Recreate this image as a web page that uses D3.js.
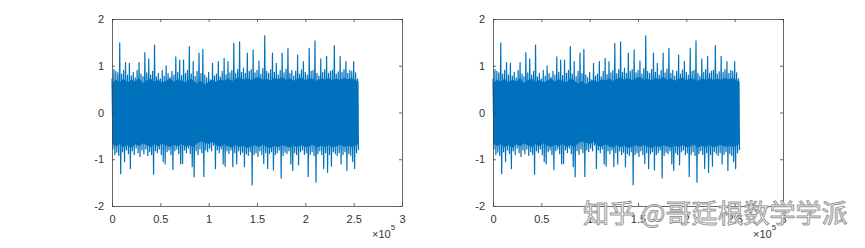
<!DOCTYPE html>
<html>
<head>
<meta charset="utf-8">
<script src="https://cdn.jsdelivr.net/npm/d3@7/dist/d3.min.js"></script>
<style>
  body { margin: 0; background: #fff; }
  svg { display: block; }
  .tick text { font-family: "Liberation Sans", Arial, sans-serif; font-size: 11px; fill: #333; }
</style>
</head>
<body>
<svg id="chart" width="865" height="248"></svg>
<script>
var width = 865, height = 248;

// x ticks in units of 1e5 samples
var xTicks = [0, 0.5, 1, 1.5, 2, 2.5, 3];
var xTickLabels = ['0', '0.5', '1', '1.5', '2', '2.5', '3'];
var yTicks = [-2, -1, 0, 1, 2];
var yTickLabels = ['-2', '-1', '0', '1', '2'];

// signal: 256000 samples, shown as max/min per block of 2000 samples
var blockSize = 2000;
var signalMax = [
  0.72, 0.92, 0.88, 0.85, 1.49, 0.82, 0.90, 1.07, 0.80, 1.05,
  0.78, 0.86, 0.74, 0.90, 1.07, 0.82, 0.77, 1.28, 0.85, 1.15,
  0.80, 0.88, 1.44, 0.76, 0.84, 0.72, 0.90, 0.78, 1.00, 0.83,
  0.75, 0.88, 0.80, 1.19, 0.86, 1.12, 0.79, 1.12, 0.84, 0.90,
  1.41, 0.82, 1.09, 0.77, 0.88, 1.27, 0.83, 1.35, 0.80, 0.74,
  0.86, 0.70, 1.05, 0.78, 0.82, 1.09, 0.76, 0.88, 1.16, 0.81,
  1.09, 0.85, 0.90, 1.48, 0.83, 0.92, 1.51, 0.86, 0.95, 0.84,
  1.27, 0.88, 0.92, 1.34, 0.85, 0.90, 1.10, 0.82, 0.94, 1.64,
  0.88, 0.84, 0.92, 1.27, 0.86, 1.05, 0.80, 0.90, 1.27, 0.85,
  0.93, 1.37, 0.84, 0.90, 0.78, 0.88, 1.23, 0.82, 0.91, 1.09,
  0.86, 0.80, 1.37, 0.88, 0.90, 1.53, 0.84, 0.78, 1.15, 0.86,
  0.92, 1.20, 0.84, 0.88, 0.90, 1.43, 0.82, 0.87, 1.20, 0.86,
  0.92, 1.09, 0.84, 0.90, 0.88, 1.09, 0.85, 0.72
];
var signalMin = [
  -0.78, -0.90, -0.85, -0.92, -1.31, -0.84, -1.05, -0.80, -0.88, -1.20,
  -0.82, -0.90, -0.76, -0.86, -0.94, -0.80, -0.88, -0.78, -0.92, -0.84,
  -0.90, -1.32, -0.82, -0.86, -0.78, -0.90, -1.05, -1.10, -0.84, -0.80,
  -0.90, -1.22, -0.82, -0.78, -0.88, -1.10, -1.09, -0.80, -0.86, -0.76,
  -0.88, -1.16, -1.38, -0.82, -0.90, -0.78, -0.86, -1.37, -0.80, -0.84,
  -0.76, -0.82, -0.70, -1.20, -0.80, -0.86, -0.78, -1.10, -1.15, -0.82,
  -0.88, -0.80, -1.16, -0.86, -1.10, -0.82, -0.90, -0.85, -1.16, -0.88,
  -0.92, -0.84, -1.55, -0.90, -0.86, -0.94, -0.82, -0.90, -1.09, -0.86,
  -1.20, -0.88, -0.84, -1.23, -0.90, -0.86, -0.80, -1.40, -0.92, -0.85,
  -0.88, -0.82, -1.10, -1.24, -0.86, -0.90, -1.12, -0.84, -0.80, -0.90,
  -0.86, -1.37, -0.90, -0.84, -0.92, -1.49, -0.88, -0.82, -0.90, -1.20,
  -0.86, -1.28, -0.90, -1.15, -0.84, -0.88, -0.92, -0.86, -1.10, -0.90,
  -0.84, -1.24, -0.88, -0.92, -1.05, -1.20, -0.86, -0.80
];

// dense core of the trace, every 4000 samples
var coreStep = 4000;
var coreHi = [0.62, 0.70, 0.66, 0.72, 0.64, 0.70, 0.67, 0.74, 0.63, 0.69, 0.72, 0.66, 0.70, 0.64, 0.68, 0.73,
  0.66, 0.71, 0.68, 0.64, 0.72, 0.69, 0.62, 0.67, 0.60, 0.66, 0.70, 0.65, 0.71, 0.68, 0.73, 0.67,
  0.72, 0.75, 0.70, 0.74, 0.69, 0.73, 0.76, 0.70, 0.72, 0.68, 0.74, 0.71, 0.76, 0.70, 0.73, 0.68,
  0.72, 0.75, 0.69, 0.74, 0.71, 0.68, 0.73, 0.70, 0.74, 0.69, 0.72, 0.70, 0.74, 0.71, 0.73, 0.69, 0.66];
var coreLo = [-0.66, -0.72, -0.68, -0.74, -0.70, -0.76, -0.68, -0.72, -0.66, -0.70, -0.74, -0.68, -0.72, -0.66, -0.71, -0.74,
  -0.69, -0.72, -0.67, -0.73, -0.70, -0.74, -0.66, -0.62, -0.64, -0.68, -0.63, -0.70, -0.73, -0.68, -0.72, -0.75,
  -0.70, -0.74, -0.71, -0.76, -0.72, -0.70, -0.74, -0.69, -0.73, -0.76, -0.71, -0.74, -0.70, -0.72, -0.75, -0.71,
  -0.73, -0.70, -0.74, -0.72, -0.69, -0.75, -0.71, -0.73, -0.70, -0.74, -0.72, -0.69, -0.73, -0.71, -0.74, -0.70, -0.68];

var watermark = '知乎 @哥廷根数学学派';

var panels = [{ left: 112, right: 402 }, { left: 493, right: 783 }];
var plotTop = 19, plotBottom = 206;
var lineColor = '#0072BD', axisColor = '#404040';

var points = [];
signalMax.forEach(function (v, i) {
  points.push([i * blockSize, v]);
  points.push([i * blockSize + blockSize / 2, signalMin[i]]);
});
var lastSample = signalMax.length * blockSize - blockSize / 2;
var core = coreHi.map(function (v, i) {
  return [Math.min(i * coreStep, lastSample), v, coreLo[i]];
});

var svg = d3.select('#chart');

panels.forEach(function (p) {
  var x = d3.scaleLinear().domain([0, 300000]).range([p.left, p.right]);
  var y = d3.scaleLinear().domain([-2, 2]).range([plotBottom, plotTop]);
  var g = svg.append('g');

  g.append('path')
    .datum(core)
    .attr('fill', lineColor)
    .attr('d', d3.area()
      .x(function (d) { return x(d[0]); })
      .y0(function (d) { return y(d[2]); })
      .y1(function (d) { return y(d[1]); }));

  g.append('path')
    .datum(points)
    .attr('fill', 'none')
    .attr('stroke', lineColor)
    .attr('stroke-width', 1.2)
    .attr('stroke-linejoin', 'round')
    .attr('d', d3.line()
      .x(function (d) { return x(d[0]); })
      .y(function (d) { return y(d[1]); }));

  var xVals = xTicks.map(function (t) { return t * 1e5; });
  var xAxis = g.append('g')
    .attr('transform', 'translate(0,' + plotBottom + ')')
    .call(d3.axisBottom(x).tickValues(xVals).tickSizeInner(-3).tickSizeOuter(0).tickPadding(9)
      .tickFormat(function (d, i) { return xTickLabels[i]; }));
  var xTop = g.append('g')
    .attr('transform', 'translate(0,' + plotTop + ')')
    .call(d3.axisTop(x).tickValues(xVals).tickSizeInner(-3).tickSizeOuter(0).tickFormat(''));
  var yAxis = g.append('g')
    .attr('transform', 'translate(' + p.left + ',0)')
    .call(d3.axisLeft(y).tickValues(yTicks).tickSizeInner(-3).tickSizeOuter(0).tickPadding(8)
      .tickFormat(function (d, i) { return yTickLabels[i]; }));
  var yRight = g.append('g')
    .attr('transform', 'translate(' + p.right + ',0)')
    .call(d3.axisRight(y).tickValues(yTicks).tickSizeInner(-3).tickSizeOuter(0).tickFormat(''));

  [xAxis, xTop, yAxis, yRight].forEach(function (a) {
    a.selectAll('path, line').attr('stroke', axisColor).attr('stroke-width', 0.8);
  });

  var exp = g.append('text')
    .attr('x', p.right - 30)
    .attr('y', 238)
    .attr('font-family', '"Liberation Sans", Arial, sans-serif')
    .attr('font-size', 11)
    .attr('fill', '#333');
  exp.append('tspan').text('×10');
  exp.append('tspan').attr('dy', -8).attr('font-size', 8).text('5');
});

svg.append('text')
  .attr('x', 583)
  .attr('y', 223)
  .attr('font-family', '"Noto Sans CJK SC", sans-serif')
  .attr('font-size', 26)
  .attr('fill', '#fff')
  .attr('stroke', '#9a9a9a')
  .attr('stroke-width', 1)
  .text(watermark);
</script>
</body>
</html>
